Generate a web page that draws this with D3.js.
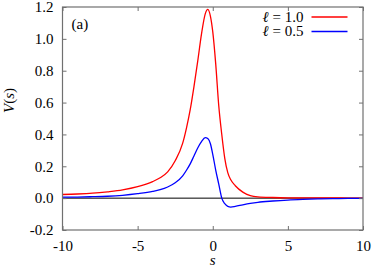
<!DOCTYPE html>
<html>
<head>
<meta charset="utf-8">
<script src="https://cdn.jsdelivr.net/npm/d3@7"></script>
</head>
<body style="margin:0">
<script>
var margin = { top: 7, right: 11, bottom: 39, left: 62.5 },
    width = 374 - margin.left - margin.right,
    height = 269 - margin.top - margin.bottom;

// DATA
var sVals = [-10, -9, -8, -7, -6, -5, -4, -3.5, -3, -2.5, -2, -1.75, -1.5, -1.25, -1, -0.75, -0.5, -0.33, -0.15,
             0, 0.2, 0.4, 0.6, 0.8, 1.0, 1.2, 1.5, 2, 2.5, 3, 4, 5, 6, 7, 8, 9, 10];
var red10 = [0.023, 0.026, 0.031, 0.040, 0.052, 0.072, 0.104, 0.128, 0.165, 0.235, 0.345, 0.44, 0.555, 0.70, 0.86, 1.03, 1.157, 1.185, 1.14,
             1.045, 0.84, 0.58, 0.40, 0.25, 0.16, 0.115, 0.078, 0.038, 0.016, 0.008, 0.004, 0.002, 0.0015, 0.001, 0.001, 0.0005, 0.0005];
var blue05 = [0.006, 0.007, 0.009, 0.012, 0.018, 0.028, 0.042, 0.053, 0.07, 0.096, 0.14, 0.175, 0.215, 0.265, 0.315, 0.355, 0.38, 0.374, 0.34,
              0.275, 0.175, 0.088, 0.0, -0.035, -0.052, -0.056, -0.052, -0.042, -0.033, -0.026, -0.018, -0.012, -0.008, -0.005, -0.003, -0.002, -0.001];
var xTicks = [-10, -5, 0, 5, 10];
var yTicks = [-0.2, 0.0, 0.2, 0.4, 0.6, 0.8, 1.0, 1.2];
var series = [
    { label: " = 1.0", color: "#ff0000", values: red10 },
    { label: " = 0.5", color: "#0000ff", values: blue05 }
];

var root = d3.select("body").append("svg")
    .attr("width", width + margin.left + margin.right)
    .attr("height", height + margin.top + margin.bottom)
    .style("font-family", "Liberation Serif");

var svg = root.append("g")
    .attr("transform", "translate(" + margin.left + "," + margin.top + ")");

var xScale = d3.scaleLinear().domain([-10, 10]).range([0, width]);
var yScale = d3.scaleLinear().domain([-0.2, 1.2]).range([height, 0]);

var frameColor = "#707070";

function serif(sel) {
    sel.style("font-family", "Liberation Serif").style("font-size", "15px");
}

// zero line
svg.append("line")
    .attr("x1", 0).attr("x2", width)
    .attr("y1", yScale(0)).attr("y2", yScale(0))
    .attr("stroke", "#000").attr("stroke-width", 1);

// curves
var line = d3.line()
    .x(d => xScale(d[0]))
    .y(d => yScale(d[1]))
    .curve(d3.curveMonotoneX);

series.forEach(function (sr) {
    svg.append("path")
        .datum(sVals.map((s, i) => [s, sr.values[i]]))
        .attr("fill", "none")
        .attr("stroke", sr.color)
        .attr("stroke-width", 1.3)
        .attr("d", line);
});

// axes (ticks inward, mirrored)
function styleAxis(g) {
    g.attr("font-family", "Liberation Serif").attr("font-size", 15);
    g.select(".domain").remove();
    g.selectAll(".tick line").attr("stroke", frameColor);
    g.selectAll(".tick text").attr("fill", "#000").call(serif);
}

svg.append("g")
    .attr("transform", "translate(0," + height + ")")
    .call(d3.axisBottom(xScale).tickValues(xTicks).tickSize(-4).tickPadding(10).tickFormat(d => String(d)))
    .call(styleAxis);

svg.append("g")
    .call(d3.axisTop(xScale).tickValues(xTicks).tickSize(-4).tickFormat(""))
    .call(styleAxis);

svg.append("g")
    .call(d3.axisLeft(yScale).tickValues(yTicks).tickSize(-4).tickPadding(9).tickFormat(d => d.toFixed(1)))
    .call(styleAxis);

svg.append("g")
    .attr("transform", "translate(" + width + ",0)")
    .call(d3.axisRight(yScale).tickValues(yTicks).tickSize(-4).tickFormat(""))
    .call(styleAxis);

// frame
svg.append("rect")
    .attr("x", 0).attr("y", 0)
    .attr("width", width).attr("height", height)
    .attr("fill", "none")
    .attr("stroke", frameColor)
    .attr("stroke-width", 1.2);

// labels
svg.append("text")
    .attr("x", width / 2)
    .attr("y", height + 35)
    .attr("text-anchor", "middle")
    .call(serif)
    .style("font-style", "italic")
    .text("s");

var yLab = svg.append("text")
    .attr("transform", "translate(" + (-49) + "," + (height / 2 - 18) + ") rotate(-90)")
    .attr("text-anchor", "middle")
    .call(serif);
yLab.append("tspan").style("font-style", "italic").text("V");
yLab.append("tspan").text("(");
yLab.append("tspan").style("font-style", "italic").text("s");
yLab.append("tspan").text(")");

svg.append("text")
    .attr("x", 9)
    .attr("y", 22)
    .call(serif)
    .text("(a)");

// legend
var legend = svg.selectAll(".legend")
    .data(series)
    .enter()
    .append("g")
    .attr("class", "legend")
    .attr("transform", (d, i) => "translate(0," + (10 + i * 14.5) + ")");

var legText = legend.append("text")
    .attr("x", 241)
    .attr("y", 4.5)
    .attr("text-anchor", "end")
    .call(serif);
legText.append("tspan").style("font-style", "italic").text("\u2113");
legText.append("tspan").text(d => d.label);

legend.append("line")
    .attr("x1", 249).attr("x2", 285)
    .attr("y1", 0).attr("y2", 0)
    .attr("stroke", d => d.color)
    .attr("stroke-width", 1.3);
</script>
</body>
</html>
